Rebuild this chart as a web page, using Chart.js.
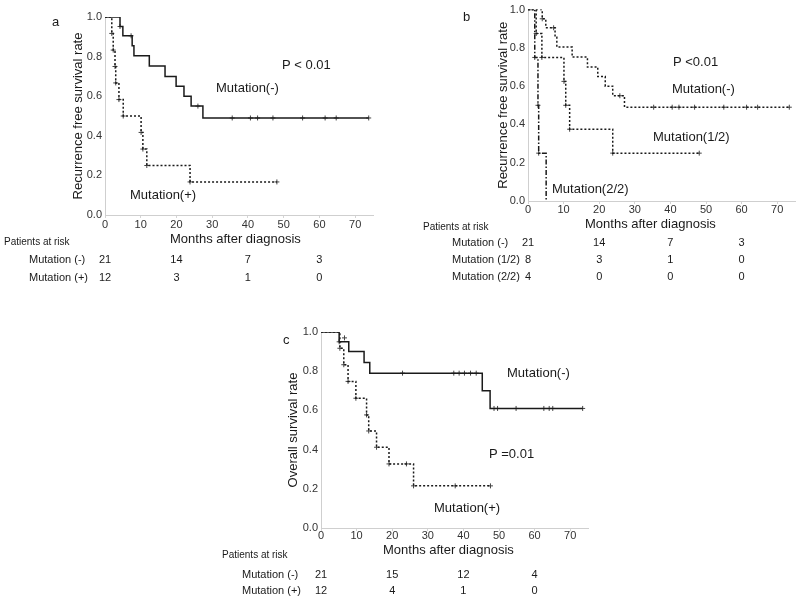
<!DOCTYPE html>
<html><head><meta charset="utf-8">
<script src="https://cdn.jsdelivr.net/npm/chart.js@4.4.1/dist/chart.umd.min.js"></script>
<style>
html,body{margin:0;padding:0;background:#fff;width:800px;height:602px;overflow:hidden;}
.p{position:absolute;}
canvas{display:block;}
</style></head><body>
<div class="p" style="left:0;top:0"><canvas id="ca" width="400" height="290"></canvas></div>
<div class="p" style="left:420px;top:0"><canvas id="cb" width="380" height="290"></canvas></div>
<div class="p" style="left:200px;top:300px"><canvas id="cc" width="400" height="302"></canvas></div>
<script>
// ---------- tick labels / categories ----------
const X_TICKS = [0, 10, 20, 30, 40, 50, 60, 70];
const Y_TICKS = [0, 0.2, 0.4, 0.6, 0.8, 1.0];
const RISK_TIMES = [0, 20, 40, 60];

// ---------- panel a: recurrence free survival ----------
const A_NEG_T = [0, 4.2, 5.0, 7.6, 8.1, 12.4, 16.8, 19.9, 22.1, 24.1, 27.4, 73.8];
const A_NEG_S = [1, 0.952, 0.905, 0.855, 0.804, 0.752, 0.700, 0.650, 0.600, 0.550, 0.490, 0.490];
const A_NEG_CT = [4.2, 7.3, 26.0, 35.6, 40.7, 42.7, 47.0, 55.3, 61.6, 64.7, 73.8];
const A_NEG_CS = [0.952, 0.905, 0.550, 0.490, 0.490, 0.490, 0.490, 0.490, 0.490, 0.490, 0.490];
const A_POS_T = [0, 1.9, 2.3, 2.8, 3.0, 3.9, 5.1, 10.1, 10.6, 11.7, 23.8, 48.1];
const A_POS_S = [1, 0.917, 0.833, 0.750, 0.667, 0.583, 0.500, 0.417, 0.333, 0.250, 0.167, 0.167];
const A_POS_CT = [1.9, 2.3, 2.8, 3.0, 3.9, 5.1, 10.1, 10.6, 11.7, 23.8, 48.1];
const A_POS_CS = [0.917, 0.833, 0.750, 0.667, 0.583, 0.500, 0.417, 0.333, 0.250, 0.167, 0.167];
const A_RISK_NEG = [21, 14, 7, 3];
const A_RISK_POS = [12, 3, 1, 0];

// ---------- panel b: recurrence free survival by mutation count ----------
const B_NEG_T = [0, 4.0, 5.0, 7.6, 8.1, 12.4, 16.7, 19.6, 21.7, 23.8, 27.1, 73.4];
const B_NEG_S = [1, 0.952, 0.905, 0.855, 0.804, 0.752, 0.700, 0.650, 0.600, 0.550, 0.490, 0.490];
const B_NEG_CT = [4.0, 7.2, 25.8, 35.3, 40.5, 42.4, 46.8, 55.0, 61.4, 64.5, 73.4];
const B_NEG_CS = [0.952, 0.905, 0.550, 0.490, 0.490, 0.490, 0.490, 0.490, 0.490, 0.490, 0.490];
const B_HALF_T = [0, 2.3, 3.9, 10.1, 10.6, 11.7, 23.8, 48.1];
const B_HALF_S = [1, 0.875, 0.750, 0.625, 0.500, 0.375, 0.250, 0.250];
const B_HALF_CT = [2.3, 3.9, 10.1, 10.6, 11.7, 23.8, 48.1];
const B_HALF_CS = [0.875, 0.750, 0.625, 0.500, 0.375, 0.250, 0.250];
const B_FULL_T = [0, 1.9, 2.8, 3.0, 5.1];
const B_FULL_S = [1, 0.750, 0.500, 0.250, 0];
const B_FULL_CT = [1.9, 2.8, 3.0];
const B_FULL_CS = [0.750, 0.500, 0.250];
const B_RISK_NEG = [21, 14, 7, 3];
const B_RISK_HALF = [8, 3, 1, 0];
const B_RISK_FULL = [4, 0, 0, 0];

// ---------- panel c: overall survival ----------
const C_NEG_T = [0, 5.1, 7.8, 12.1, 13.7, 45.3, 47.5, 73.5];
const C_NEG_S = [1, 0.950, 0.900, 0.845, 0.790, 0.700, 0.610, 0.610];
const C_NEG_CT = [5.1, 22.9, 37.3, 38.8, 40.3, 42.0, 43.6, 48.6, 49.6, 54.8, 62.6, 64.1, 65.1, 73.5];
const C_NEG_CS = [0.950, 0.790, 0.790, 0.790, 0.790, 0.790, 0.790, 0.610, 0.610, 0.610, 0.610, 0.610, 0.610, 0.610];
const C_POS_T = [0, 5.3, 6.4, 7.6, 9.8, 12.8, 13.4, 15.6, 19.1, 26.0, 47.6];
const C_POS_S = [1, 0.917, 0.833, 0.748, 0.662, 0.577, 0.495, 0.412, 0.327, 0.215, 0.215];
const C_POS_CT = [6.6, 5.3, 6.4, 7.6, 9.8, 12.8, 13.4, 15.6, 19.1, 24.0, 26.0, 37.7, 47.6];
const C_POS_CS = [0.970, 0.917, 0.833, 0.748, 0.662, 0.577, 0.495, 0.412, 0.327, 0.327, 0.215, 0.215, 0.215];
const C_RISK_NEG = [21, 15, 12, 4];
const C_RISK_POS = [12, 4, 1, 0];

// ---------- text ----------
const X_TITLE = 'Months after diagnosis';
const RISK_TITLE = 'Patients at risk';

const FONT = '"Liberation Sans", Arial, Helvetica, sans-serif';
Chart.defaults.font.family = FONT;
Chart.defaults.color = '#222';

function pts(T, S) { return T.map((t, i) => ({x: t, y: S[i]})); }
function lineDs(T, S, dash, width) {
  return {data: pts(T, S), showLine: true, stepped: 'before', borderColor: '#1a1a1a',
          borderWidth: width || 1.5, borderDash: dash || [], pointRadius: 0, fill: false};
}
function crossDs(T, S) {
  return {data: pts(T, S), showLine: false, pointStyle: 'cross', pointRadius: 2.5,
          borderWidth: 1, borderColor: '#444', backgroundColor: '#444'};
}
function textPlugin(items) {
  return {id: 'txt', afterDraw(chart) {
    const ctx = chart.ctx; ctx.save();
    ctx.fillStyle = '#1a1a1a'; ctx.textBaseline = 'middle';
    for (const it of items) {
      ctx.font = it.size + 'px ' + FONT;
      ctx.textAlign = it.align || 'left';
      const x = (it.t !== undefined) ? chart.scales.x.getPixelForValue(it.t) : it.x;
      ctx.fillText(it.text, x, it.y);
    }
    ctx.restore();
  }};
}
function riskRow(arr, y) {
  return arr.map((n, i) => ({text: String(n), t: RISK_TIMES[i], y: y, size: 11, align: 'center'}));
}
function makePanel(id, c) {
  new Chart(document.getElementById(id), {
    type: 'scatter',
    data: {datasets: c.datasets},
    options: {
      responsive: false, animation: false, devicePixelRatio: 1,
      layout: {padding: c.pad},
      plugins: {legend: {display: false}, tooltip: {enabled: false}},
      scales: {
        x: {type: 'linear', min: 0, max: 75,
            afterBuildTicks: s => { s.ticks = X_TICKS.map(v => ({value: v})); },
            afterFit: s => { s.height = 20; },
            grid: {display: true, drawOnChartArea: false, drawTicks: true, tickLength: 3, color: '#d4d4d4'},
            border: {display: true, color: '#cfcfcf', width: 1},
            ticks: {padding: c.xpad, autoSkip: false, maxRotation: 0, color: '#333',
                    font: {size: 11}, callback: v => String(v)}},
        y: {type: 'linear', min: 0, max: 1,
            afterBuildTicks: s => { s.ticks = Y_TICKS.map(v => ({value: v})); },
            afterFit: s => { s.width = c.yw; },
            grid: {display: true, drawOnChartArea: false, drawTicks: false},
            border: {display: true, color: '#cfcfcf', width: 1},
            title: {display: true, text: c.ytitle, font: {size: 13}, color: '#1a1a1a', padding: 0},
            ticks: {padding: 3, autoSkip: false, color: '#333', font: {size: 11},
                    callback: v => Number(v).toFixed(1)}}
      }
    },
    plugins: [textPlugin(c.texts)]
  });
}

// panel a
makePanel('ca', {
  pad: {left: 71, right: 27, top: 17, bottom: 55}, yw: 34, xpad: 0,
  ytitle: 'Recurrence free survival rate',
  datasets: [
    lineDs(A_NEG_T, A_NEG_S),
    lineDs(A_POS_T, A_POS_S, [2, 2]),
    crossDs(A_NEG_CT, A_NEG_CS),
    crossDs(A_POS_CT, A_POS_CS)
  ],
  texts: [
    {text: 'a', x: 52, y: 22, size: 13},
    {text: 'P < 0.01', x: 282, y: 65, size: 13},
    {text: 'Mutation(-)', x: 216, y: 88, size: 13},
    {text: 'Mutation(+)', x: 130, y: 195, size: 13},
    {text: X_TITLE, x: 170, y: 239, size: 13},
    {text: RISK_TITLE, x: 4, y: 242, size: 10},
    {text: 'Mutation (-)', x: 29, y: 260, size: 11},
    {text: 'Mutation (+)', x: 29, y: 278, size: 11}
  ].concat(riskRow(A_RISK_NEG, 260), riskRow(A_RISK_POS, 278))
});

// panel b
makePanel('cb', {
  pad: {left: 76, right: 2, top: 8, bottom: 69}, yw: 32, xpad: -1,
  ytitle: 'Recurrence free survival rate',
  datasets: [
    lineDs(B_NEG_T, B_NEG_S, [2, 2]),
    lineDs(B_HALF_T, B_HALF_S, [2, 2]),
    lineDs(B_FULL_T, B_FULL_S, [5, 2, 1.5, 2]),
    crossDs(B_NEG_CT, B_NEG_CS),
    crossDs(B_HALF_CT, B_HALF_CS),
    crossDs(B_FULL_CT, B_FULL_CS)
  ],
  texts: [
    {text: 'b', x: 43, y: 17, size: 13},
    {text: 'P <0.01', x: 253, y: 62, size: 13},
    {text: 'Mutation(-)', x: 252, y: 89, size: 13},
    {text: 'Mutation(1/2)', x: 233, y: 137, size: 13},
    {text: 'Mutation(2/2)', x: 132, y: 189, size: 13},
    {text: X_TITLE, x: 165, y: 224, size: 13},
    {text: RISK_TITLE, x: 3, y: 227, size: 10},
    {text: 'Mutation (-)', x: 32, y: 243, size: 11},
    {text: 'Mutation (1/2)', x: 32, y: 260, size: 11},
    {text: 'Mutation (2/2)', x: 32, y: 277, size: 11}
  ].concat(riskRow(B_RISK_NEG, 243), riskRow(B_RISK_HALF, 260), riskRow(B_RISK_FULL, 277))
});

// panel c
makePanel('cc', {
  pad: {left: 86, right: 12, top: 32, bottom: 54}, yw: 35, xpad: -2,
  ytitle: 'Overall survival rate',
  datasets: [
    lineDs(C_NEG_T, C_NEG_S),
    lineDs(C_POS_T, C_POS_S, [2, 2]),
    crossDs(C_NEG_CT, C_NEG_CS),
    crossDs(C_POS_CT, C_POS_CS)
  ],
  texts: [
    {text: 'c', x: 83, y: 40, size: 13},
    {text: 'Mutation(-)', x: 307, y: 73, size: 13},
    {text: 'P =0.01', x: 289, y: 154, size: 13},
    {text: 'Mutation(+)', x: 234, y: 208, size: 13},
    {text: X_TITLE, x: 183, y: 250, size: 13},
    {text: RISK_TITLE, x: 22, y: 255, size: 10},
    {text: 'Mutation (-)', x: 42, y: 275, size: 11},
    {text: 'Mutation (+)', x: 42, y: 291, size: 11}
  ].concat(riskRow(C_RISK_NEG, 275), riskRow(C_RISK_POS, 291))
});
</script>
</body></html>
